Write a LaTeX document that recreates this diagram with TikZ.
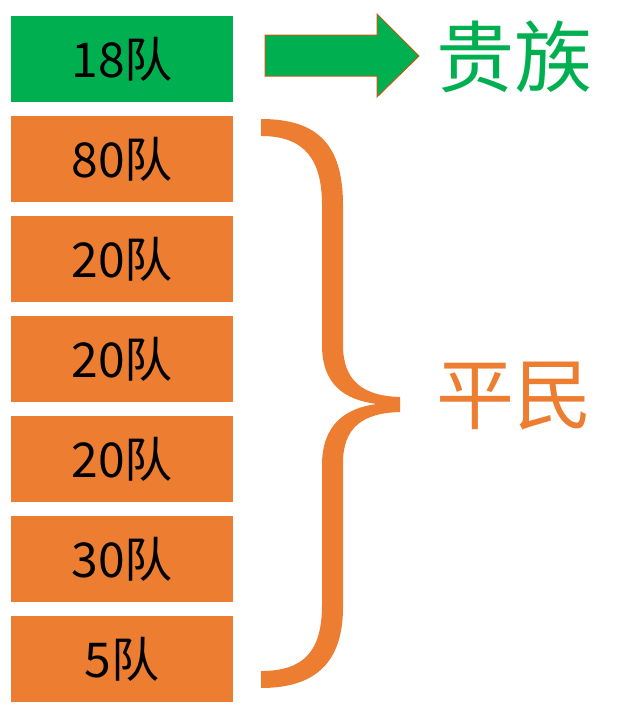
\documentclass[tikz,border=0pt]{standalone}
\usepackage{fontspec}
\newfontfamily\cjk{Noto Sans CJK SC}
\definecolor{grn}{HTML}{00B050}
\definecolor{org}{HTML}{ED7D31}
\definecolor{brn}{HTML}{C55A11}
\begin{document}
\begin{tikzpicture}[x=1pt,y=-1pt,
  box/.style={minimum width=222pt,minimum height=86pt,inner sep=0pt,outer sep=0pt,
    font=\cjk\fontsize{48}{56}\selectfont,text=black},
  big/.style={inner sep=0pt,font=\cjk\fontsize{78}{90}\selectfont}]
\useasboundingbox (0,0) rectangle (628,728);
\node[box,fill=grn] (b0) at (122,59) {18队};
\node[box,fill=org] (b1) at (122,159) {80队};
\node[box,fill=org] (b2) at (122,259) {20队};
\node[box,fill=org] (b3) at (122,359) {20队};
\node[box,fill=org] (b4) at (122,459) {20队};
\node[box,fill=org] (b5) at (122,559) {30队};
\node[box,fill=org] (b6) at (122,659) {5队};
% arrow
\filldraw[fill=grn,draw=brn,line width=1pt,line join=miter]
  (265,35) -- (377,35) -- (377,14) -- (419,56) -- (377,97) -- (377,76) -- (265,76) -- cycle;
\node[big,text=grn] (gz) at (514,57) {贵族};
% brace
\fill[org] (261,119)
  .. controls (318,119) and (343,145) .. (343,205)
  -- (343,345)
  .. controls (343,380) and (362,396) .. (400,397)
  -- (400,412)
  .. controls (362,413) and (343,428) .. (343,463)
  -- (343,607)
  .. controls (343,660) and (318,688) .. (261,688)
  -- (261,671)
  .. controls (305,671) and (322,650) .. (322,605)
  -- (322,465)
  .. controls (322,425) and (345,408) .. (377,404)
  .. controls (345,400) and (322,385) .. (322,345)
  -- (322,205)
  .. controls (322,160) and (305,136) .. (261,136)
  -- cycle;
\node[big,text=org] (pm) at (514,396) {平民};
\end{tikzpicture}
\end{document}
